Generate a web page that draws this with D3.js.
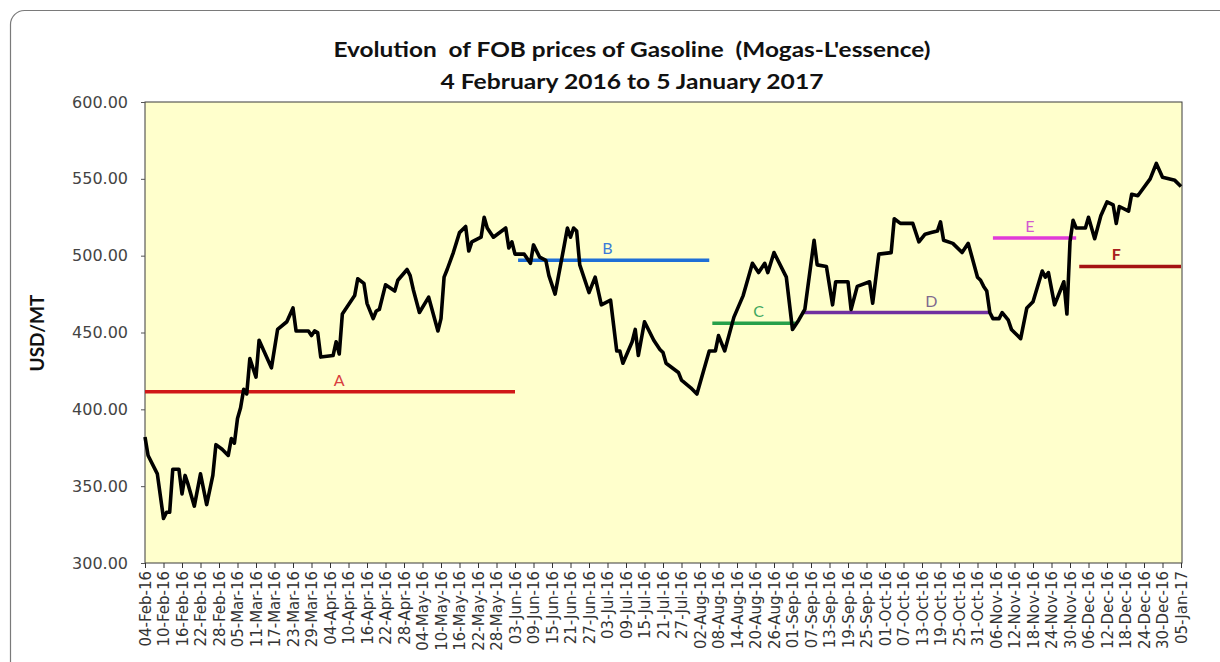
<!DOCTYPE html>
<html><head><meta charset="utf-8">
<script src="https://cdn.jsdelivr.net/npm/d3@7"></script>
<style>body{margin:0;background:#fff;} svg{display:block;} .pre{white-space:pre;}</style>
</head><body>
<svg id="chart" width="1220" height="662"></svg>
<script>
// ---------- DATA ----------
const dates = [
"2016-02-04","2016-02-05","2016-02-08","2016-02-10","2016-02-11","2016-02-12","2016-02-13","2016-02-15","2016-02-16","2016-02-17",
"2016-02-18","2016-02-20","2016-02-22","2016-02-24","2016-02-26","2016-02-27","2016-02-29","2016-03-02","2016-03-03","2016-03-04",
"2016-03-05","2016-03-06","2016-03-07","2016-03-08","2016-03-09","2016-03-11","2016-03-12","2016-03-16","2016-03-18","2016-03-21",
"2016-03-23","2016-03-24","2016-03-28","2016-03-29","2016-03-30","2016-03-31","2016-04-01","2016-04-05","2016-04-06","2016-04-07",
"2016-04-08","2016-04-10","2016-04-12","2016-04-13","2016-04-15","2016-04-16","2016-04-18","2016-04-19","2016-04-20","2016-04-22",
"2016-04-25","2016-04-26","2016-04-29","2016-04-30","2016-05-01","2016-05-03","2016-05-06","2016-05-09","2016-05-10","2016-05-11",
"2016-05-12","2016-05-14","2016-05-16","2016-05-18","2016-05-19","2016-05-20","2016-05-23","2016-05-24","2016-05-25","2016-05-27",
"2016-05-31","2016-06-01","2016-06-02","2016-06-03","2016-06-06","2016-06-08","2016-06-09","2016-06-11","2016-06-13","2016-06-14",
"2016-06-16","2016-06-19","2016-06-20","2016-06-21","2016-06-22","2016-06-23","2016-06-24","2016-06-27","2016-06-29","2016-07-01",
"2016-07-04","2016-07-06","2016-07-07","2016-07-08","2016-07-11","2016-07-12","2016-07-13","2016-07-15","2016-07-18","2016-07-20",
"2016-07-21","2016-07-22","2016-07-26","2016-07-27","2016-07-30","2016-08-01","2016-08-03","2016-08-05","2016-08-07","2016-08-08",
"2016-08-10","2016-08-13","2016-08-16","2016-08-19","2016-08-21","2016-08-23","2016-08-24","2016-08-26","2016-08-30","2016-09-01",
"2016-09-03","2016-09-05","2016-09-08","2016-09-09","2016-09-12","2016-09-14","2016-09-15","2016-09-19","2016-09-20","2016-09-22",
"2016-09-26","2016-09-27","2016-09-29","2016-10-03","2016-10-04","2016-10-06","2016-10-10","2016-10-12","2016-10-14","2016-10-16",
"2016-10-18","2016-10-19","2016-10-20","2016-10-23","2016-10-26","2016-10-28","2016-10-31","2016-11-01","2016-11-02","2016-11-03",
"2016-11-04","2016-11-05","2016-11-07","2016-11-08","2016-11-10","2016-11-11","2016-11-14","2016-11-16","2016-11-18","2016-11-21",
"2016-11-22","2016-11-23","2016-11-25","2016-11-28","2016-11-29","2016-11-30","2016-12-01","2016-12-02","2016-12-05","2016-12-06",
"2016-12-08","2016-12-10","2016-12-12","2016-12-14","2016-12-15","2016-12-16","2016-12-19","2016-12-20","2016-12-22","2016-12-26",
"2016-12-28","2016-12-30","2017-01-03","2017-01-05"
];
const prices = [
382,370,358,329,333,333,361,361,345,357,
351,337,358,338,357,377,374,370,381,378,
394,401,413,410,433,421,445,427,452,457,
466,451,451,448,451,450,434,435,444,436,
462,468,474,485,482,469,459,464,465,481,
477,484,491,487,478,463,473,451,459,486,
491,502,515,519,503,509,512,525,518,512,
518,505,509,501,501,495,507,499,497,487,
475,507,518,512,518,516,494,476,486,468,
471,438,438,430,444,452,435,457,445,439,
437,430,424,419,414,410,424,438,438,448,
438,460,474,495,489,495,489,502,486,452,
458,465,510,494,493,468,483,483,465,480,
483,469,501,502,524,521,521,509,514,515,
516,522,510,508,502,508,486,484,480,477,
463,459,459,463,458,452,446,466,470,490,
486,489,468,483,462,509,523,518,518,525,
511,526,535,533,521,532,529,540,539,550,
560,551,549,545
];
const tickLabels = [
"04-Feb-16","10-Feb-16","16-Feb-16","22-Feb-16","28-Feb-16","05-Mar-16","11-Mar-16","17-Mar-16","23-Mar-16","29-Mar-16",
"04-Apr-16","10-Apr-16","16-Apr-16","22-Apr-16","28-Apr-16","04-May-16","10-May-16","16-May-16","22-May-16","28-May-16",
"03-Jun-16","09-Jun-16","15-Jun-16","21-Jun-16","27-Jun-16","03-Jul-16","09-Jul-16","15-Jul-16","21-Jul-16","27-Jul-16",
"02-Aug-16","08-Aug-16","14-Aug-16","20-Aug-16","26-Aug-16","01-Sep-16","07-Sep-16","13-Sep-16","19-Sep-16","25-Sep-16",
"01-Oct-16","07-Oct-16","13-Oct-16","19-Oct-16","25-Oct-16","31-Oct-16","06-Nov-16","12-Nov-16","18-Nov-16","24-Nov-16",
"30-Nov-16","06-Dec-16","12-Dec-16","18-Dec-16","24-Dec-16","30-Dec-16","05-Jan-17"
];
const yTicks = [300,350,400,450,500,550,600];
const periodNames  = ["A","B","C","D","E","F"];
const periodStarts = ["2016-02-04","2016-06-04","2016-08-06","2016-09-04","2016-11-05","2016-12-03"];
const periodEnds   = ["2016-06-03","2016-08-05","2016-09-02","2016-11-04","2016-12-02","2017-01-05"];
const periodValues = [411.5,497,456,463,511.5,493];
const periodLabelDates = ["2016-04-07","2016-07-03","2016-08-21","2016-10-16","2016-11-17","2016-12-15"];
const periodColors = ["#d01818","#1f6fd6","#26a04a","#7030a0","#e03ad8","#a51212"];
const periodLabelColors = ["#d84040","#3a7ad8","#3fa860","#7f6a8f","#d25ad0","#a82020"];

// ---------- CHART ----------
const svg = d3.select("#chart");
const parseISO = d3.timeParse("%Y-%m-%d");
const parseTick = d3.timeParse("%d-%b-%y");
const fmtTick = d3.timeFormat("%d-%b-%y");

const L = 145, R = 1181, T = 102, B = 563;
const x = d3.scaleTime().domain([parseISO("2016-02-04"), parseISO("2017-01-05")]).range([L, R]);
const y = d3.scaleLinear().domain([300, 600]).range([B, T]);

// outer chart border
svg.append("rect").attr("x", 10.5).attr("y", 10.5).attr("width", 1240).attr("height", 680)
  .attr("rx", 14).attr("fill", "#fff").attr("stroke", "#7a7a7a").attr("stroke-width", 1.2);

// plot area
svg.append("rect").attr("x", L).attr("y", T).attr("width", R - L + 1).attr("height", B - T)
  .attr("fill", "#ffffcc").attr("stroke", "#3a3a3a").attr("stroke-width", 1);

// titles
svg.append("text").attr("class", "pre").attr("x", 632).attr("y", 57).attr("text-anchor", "middle")
  .attr("font-family", "Lato, sans-serif").attr("font-weight", "bold").attr("font-size", 21)
  .attr("fill", "#111").attr("textLength", 597).attr("lengthAdjust", "spacingAndGlyphs")
  .text("Evolution  of FOB prices of Gasoline  (Mogas-L'essence)");
svg.append("text").attr("class", "pre").attr("x", 632).attr("y", 89).attr("text-anchor", "middle")
  .attr("font-family", "Lato, sans-serif").attr("font-weight", "bold").attr("font-size", 21)
  .attr("fill", "#111").attr("textLength", 383).attr("lengthAdjust", "spacingAndGlyphs")
  .text("4 February 2016 to 5 January 2017");

// y axis
const yAxis = svg.append("g").attr("transform", `translate(${L},0)`)
  .call(d3.axisLeft(y).tickValues(yTicks).tickFormat(d3.format(".2f")).tickSize(4).tickPadding(13));
yAxis.select(".domain").remove();
yAxis.selectAll("line").attr("stroke", "#555");
yAxis.selectAll("text").attr("font-family", "'DejaVu Sans', sans-serif").attr("font-size", 16)
  .attr("fill", "#444");

svg.append("text").attr("transform", "translate(44,333) rotate(-90)").attr("text-anchor", "middle")
  .attr("font-family", "Lato, sans-serif").attr("font-weight", "bold").attr("font-size", 19)
  .attr("fill", "#111").text("USD/MT");

// x axis
const tickDates = tickLabels.map(parseTick);
const xAxis = svg.append("g").attr("transform", `translate(0,${B})`)
  .call(d3.axisBottom(x).tickValues(tickDates).tickFormat(fmtTick).tickSize(5));
xAxis.select(".domain").remove();
xAxis.selectAll("line").attr("stroke", "#333");
xAxis.selectAll("text")
  .attr("transform", "rotate(-90)").attr("x", -8).attr("y", 0).attr("dy", "0.36em")
  .attr("text-anchor", "end")
  .attr("font-family", "'DejaVu Sans', sans-serif").attr("font-size", 15).attr("fill", "#333");

// period lines
const periods = periodNames.map((n, i) => ({
  name: n, s: parseISO(periodStarts[i]), e: parseISO(periodEnds[i]), v: periodValues[i],
  ld: parseISO(periodLabelDates[i]), c: periodColors[i], lc: periodLabelColors[i]
}));
const pg = svg.append("g");
pg.selectAll("line").data(periods).join("line")
  .attr("x1", d => x(d.s)).attr("x2", d => x(d.e))
  .attr("y1", d => y(d.v)).attr("y2", d => y(d.v))
  .attr("stroke", d => d.c).attr("stroke-width", 3.5);

// price line
const series = dates.map((d, i) => ({ d: parseISO(d), v: prices[i] }));
svg.append("path").datum(series)
  .attr("d", d3.line().x(d => x(d.d)).y(d => y(d.v)))
  .attr("fill", "none").attr("stroke", "#000").attr("stroke-width", 3.6)
  .attr("stroke-linejoin", "round");

// period labels
pg.selectAll("text").data(periods).join("text")
  .attr("x", d => x(d.ld)).attr("y", d => y(d.v) - 6).attr("text-anchor", "middle")
  .attr("font-family", "Lato, sans-serif").attr("font-size", 16)
  .attr("font-weight", d => d.name === "F" ? "bold" : "normal")
  .attr("fill", d => d.lc).text(d => d.name);
</script>
</body></html>
